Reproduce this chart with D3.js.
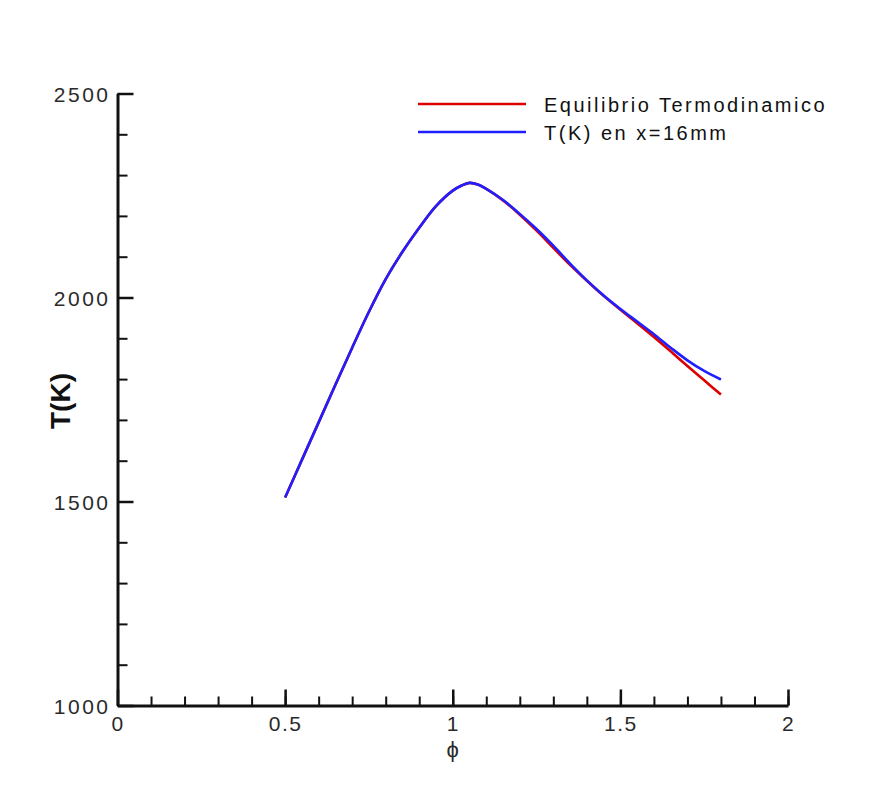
<!DOCTYPE html>
<html>
<head>
<meta charset="utf-8">
<script src="https://cdn.jsdelivr.net/npm/d3@7"></script>
<style>
  html, body { margin: 0; padding: 0; background: #ffffff; }
  svg text { font-family: "Liberation Sans", Arial, sans-serif; }
</style>
</head>
<body>
<svg id="chart" width="878" height="788"></svg>
<script>
// Equivalence ratio (phi) grid shared by both curves
const phi = [0.50, 0.55, 0.60, 0.65, 0.70, 0.75, 0.80, 0.85, 0.90, 0.95, 1.00, 1.025, 1.05, 1.075, 1.10,
             1.15, 1.20, 1.25, 1.30, 1.35, 1.40, 1.45, 1.50, 1.55, 1.60, 1.65, 1.70, 1.75, 1.80];

// Adiabatic equilibrium temperature (K)
const tEquilibrio = [1510, 1602, 1694, 1786, 1877, 1965, 2045, 2112, 2171, 2224, 2262, 2274, 2281, 2277, 2266,
                     2238, 2203, 2164, 2122, 2080, 2041, 2004, 1970, 1937, 1903, 1868, 1832, 1797, 1762];

// Computed temperature at x = 16 mm (K)
const tX16 = [1510, 1602, 1694, 1786, 1877, 1965, 2045, 2112, 2171, 2224, 2262, 2274, 2281, 2277, 2266,
              2239, 2205, 2168, 2127, 2083, 2042, 2005, 1972, 1941, 1910, 1877, 1846, 1820, 1799];

const seriesNames = ["Equilibrio Termodinamico", "T(K) en x=16mm"];
const seriesColors = ["#dd0000", "#1f1fff"];

const xMajor = [0, 0.5, 1, 1.5, 2];
const xMinor = d3.range(0, 2.0001, 0.1);
const xLabels = ["0", "0.5", "1", "1.5", "2"];
const yMajor = [1000, 1500, 2000, 2500];
const yMinor = d3.range(1000, 2501, 100);
const yLabels = ["1000", "1500", "2000", "2500"];

const svg = d3.select("#chart");

const x = d3.scaleLinear().domain([0, 2]).range([117.5, 788]);
const y = d3.scaleLinear().domain([1000, 2500]).range([705.5, 93.5]);

const labelColor = "#2a2a2a";

// ---- X axis (ticks point into the plot) ----
const gx = svg.append("g").attr("transform", `translate(0,${y(1000)})`);
gx.call(d3.axisBottom(x).tickValues(xMinor).tickSize(-9).tickSizeOuter(0).tickFormat(""))
  .call(g => g.select(".domain").remove())
  .call(g => g.selectAll(".tick line").attr("stroke", "#111").attr("stroke-width", 2));
const gxMajor = svg.append("g").attr("transform", `translate(0,${y(1000)})`);
gxMajor.call(d3.axisBottom(x).tickValues(xMajor).tickSize(-16).tickSizeOuter(0)
    .tickFormat((d, i) => xLabels[i]))
  .call(g => g.select(".domain").attr("stroke", "#111").attr("stroke-width", 3))
  .call(g => g.selectAll(".tick line").attr("stroke", "#111").attr("stroke-width", 2.5))
  .call(g => g.selectAll(".tick text")
    .attr("y", 25).attr("dy", 0)
    .attr("font-size", 21).attr("fill", labelColor)
    .attr("letter-spacing", 1.5));

// ---- Y axis (ticks point into the plot) ----
const gy = svg.append("g").attr("transform", `translate(${x(0)},0)`);
gy.call(d3.axisLeft(y).tickValues(yMinor).tickSize(-10).tickSizeOuter(0).tickFormat(""))
  .call(g => g.select(".domain").remove())
  .call(g => g.selectAll(".tick line").attr("stroke", "#111").attr("stroke-width", 2));
const gyMajor = svg.append("g").attr("transform", `translate(${x(0)},0)`);
gyMajor.call(d3.axisLeft(y).tickValues(yMajor).tickSize(-16).tickSizeOuter(0)
    .tickFormat((d, i) => yLabels[i]))
  .call(g => g.select(".domain").attr("stroke", "#111").attr("stroke-width", 3))
  .call(g => g.selectAll(".tick line").attr("stroke", "#111").attr("stroke-width", 2.5))
  .call(g => g.selectAll(".tick text")
    .attr("x", -7).attr("dy", "0.4em")
    .attr("font-size", 21).attr("fill", labelColor)
    .attr("letter-spacing", 2.5));

// ---- Axis titles ----
svg.append("text")
  .attr("x", x(1)).attr("y", 757)
  .attr("text-anchor", "middle")
  .attr("font-size", 22).attr("fill", labelColor)
  .text("\u03D5");

svg.append("text")
  .attr("transform", `translate(70,401) rotate(-90)`)
  .attr("text-anchor", "middle")
  .attr("font-size", 28).attr("font-weight", "bold").attr("fill", "#111")
  .text("T(K)");

// ---- Curves ----
const line = d3.line()
  .x(d => x(d[0]))
  .y(d => y(d[1]))
  .curve(d3.curveCatmullRom.alpha(0.5));

[tEquilibrio, tX16].forEach((vals, i) => {
  svg.append("path")
    .datum(phi.map((p, k) => [p, vals[k]]))
    .attr("fill", "none")
    .attr("stroke", seriesColors[i])
    .attr("stroke-width", 2.6)
    .attr("stroke-linejoin", "round")
    .attr("d", line);
});

// ---- Legend ----
const legend = svg.append("g");
const legendRows = [104, 132];
seriesNames.forEach((name, i) => {
  legend.append("line")
    .attr("x1", 418).attr("x2", 526)
    .attr("y1", legendRows[i]).attr("y2", legendRows[i])
    .attr("stroke", seriesColors[i]).attr("stroke-width", 2.6);
  legend.append("text")
    .attr("x", 544).attr("y", legendRows[i] + 8)
    .attr("font-size", 20).attr("fill", "#111")
    .attr("letter-spacing", 2.5)
    .text(name);
});
</script>
</body>
</html>
